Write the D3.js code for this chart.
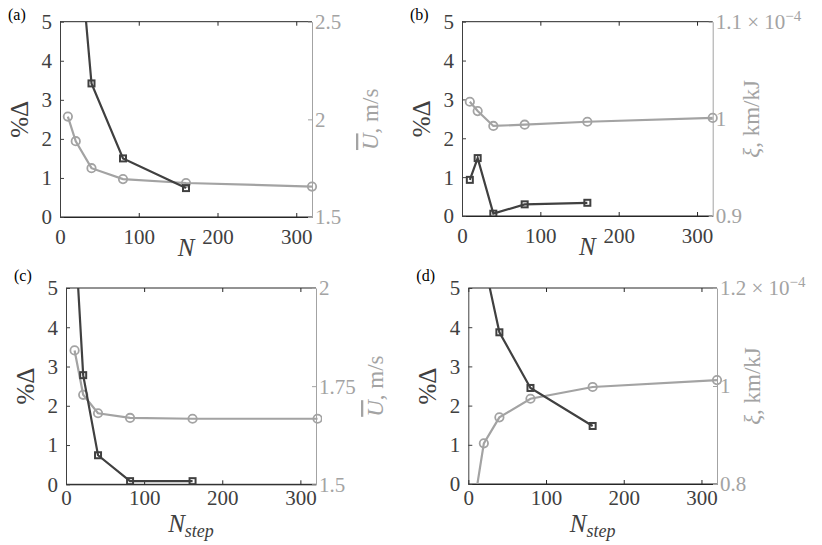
<!DOCTYPE html>
<html>
<head>
<meta charset="utf-8">
<script src="https://d3js.org/d3.v7.min.js"></script>
<style>
  body { margin: 0; background: #fff; }
</style>
</head>
<body>
<svg id="chart" width="822" height="545"></svg>
<script>
// ---- data ----
// (a) resolution N, %Delta (left) and mean speed U (right)
const aErrN = [20, 40, 80, 160];
const aErr = [8.0, 3.42, 1.5, 0.74];
const aValN = [10, 20, 40, 80, 160, 320];
const aU = [2.014, 1.888, 1.75, 1.694, 1.674, 1.656];

// (b) resolution N, %Delta and xi (x 1e-4)
const bErrN = [10, 20, 40, 80, 160];
const bErr = [0.93, 1.49, 0.06, 0.3, 0.34];
const bValN = [10, 20, 40, 80, 160, 320];
const bXi = [1.0176, 1.008, 0.9927, 0.994, 0.997, 1.001];

// (c) N_step, %Delta and U
const cErrN = [11, 22, 41, 82, 162];
const cErr = [6.6, 2.78, 0.74, 0.08, 0.08];
const cValN = [11, 22, 41, 82, 162, 322];
const cU = [1.841, 1.728, 1.681, 1.669, 1.667, 1.667];

// (d) N_step, %Delta and xi (x 1e-4)
const dErrN = [20, 40, 80, 160];
const dErr = [5.7, 3.87, 2.45, 1.48];
const dValN = [10, 20, 40, 80, 160, 320];
const dXi = [0.783, 0.883, 0.936, 0.974, 0.998, 1.012];

const xTicks = [0, 100, 200, 300];
const leftTicks = [0, 1, 2, 3, 4, 5];

const dark = '#404040';
const grey = '#a3a3a3';
const serif = '"Liberation Serif", "Times New Roman", "DejaVu Serif", serif';

const svg = d3.select('#chart').attr('font-family', serif);

const panels = [
  { tag: '(a)', tagY: 20, box: [60, 21.7, 312, 217], errN: aErrN, err: aErr, valN: aValN, val: aU,
    rDomain: [1.5, 2.5], rTicks: [1.5, 2, 2.5], rFmt: ['1.5', '2', '2.5'], rExp: false,
    xLab: 'N', rLab: 'U', xPad: 10, xTitle: 39, rOff: 66 },
  { tag: '(b)', tagY: 20, box: [462, 21.7, 712.7, 216], errN: bErrN, err: bErr, valN: bValN, val: bXi,
    rDomain: [0.9, 1.1], rTicks: [0.9, 1, 1.1], rFmt: ['0.9', '1', '1.1'], rExp: true,
    xLab: 'N', rLab: 'xi', xPad: 10, xTitle: 39, rOff: 46 },
  { tag: '(c)', tagY: 281, box: [66, 288, 316, 484.3], errN: cErrN, err: cErr, valN: cValN, val: cU,
    rDomain: [1.5, 2], rTicks: [1.5, 1.75, 2], rFmt: ['1.5', '1.75', '2'], rExp: false,
    xLab: 'Nstep', rLab: 'U', xPad: 4, xTitle: 48, rOff: 67 },
  { tag: '(d)', tagY: 281, box: [468.3, 288, 717, 484], errN: dErrN, err: dErr, valN: dValN, val: dXi,
    rDomain: [0.8, 1.2], rTicks: [0.8, 1, 1.2], rFmt: ['0.8', '1', '1.2'], rExp: true,
    xLab: 'Nstep', rLab: 'xi', xPad: 4, xTitle: 48, rOff: 43 }
];

panels.forEach((p, pi) => {
  const [x0, y0, x1, y1] = p.box;
  const w = x1 - x0, h = y1 - y0;
  const g = svg.append('g').attr('transform', `translate(${x0},${y0})`);

  const xScale = d3.scaleLinear().domain([0, 320]).range([0, w]);
  const yL = d3.scaleLinear().domain([0, 5]).range([h, 0]);
  const yR = d3.scaleLinear().domain(p.rDomain).range([h, 0]);

  // clip to the plot box
  const clipId = 'clip' + pi;
  g.append('clipPath').attr('id', clipId)
    .append('rect').attr('x', -6).attr('y', 0).attr('width', w + 12).attr('height', h);

  // frame top / bottom
  g.append('line').attr('x1', 0).attr('x2', w).attr('y1', 0).attr('y2', 0).attr('stroke', '#262626');
  g.append('line').attr('x1', 0).attr('x2', w).attr('y1', h).attr('y2', h).attr('stroke', '#262626');

  // bottom axis, inward ticks
  const xAxis = d3.axisBottom(xScale).tickValues(xTicks).tickSizeInner(-4).tickSizeOuter(0).tickPadding(p.xPad);
  const gx = g.append('g').attr('transform', `translate(0,${h})`).call(xAxis).attr('font-family', serif);
  gx.select('.domain').attr('stroke', '#262626');
  gx.selectAll('.tick line').attr('stroke', '#262626');
  gx.selectAll('text').attr('fill', dark).attr('font-size', 21).attr('dy', '0.8em');

  // top ticks
  const xTop = d3.axisTop(xScale).tickValues(xTicks).tickSizeInner(-4).tickSizeOuter(0).tickFormat('');
  const gt = g.append('g').call(xTop);
  gt.select('.domain').remove();
  gt.selectAll('.tick line').attr('stroke', '#262626');

  // left axis
  const yAxisL = d3.axisLeft(yL).tickValues(leftTicks).tickSizeInner(-4).tickSizeOuter(0).tickPadding(8)
    .tickFormat(d3.format('d'));
  const gl = g.append('g').call(yAxisL).attr('font-family', serif);
  gl.select('.domain').attr('stroke', dark);
  gl.selectAll('.tick line').attr('stroke', dark);
  gl.selectAll('text').attr('fill', dark).attr('font-size', 21).attr('dy', '0.33em');

  // right axis
  const yAxisR = d3.axisRight(yR).tickValues(p.rTicks).tickSizeInner(-4).tickSizeOuter(0).tickPadding(3)
    .tickFormat((d, i) => p.rFmt[i]);
  const gr = g.append('g').attr('transform', `translate(${w},0)`).call(yAxisR).attr('font-family', serif);
  gr.select('.domain').attr('stroke', grey);
  gr.selectAll('.tick line').attr('stroke', grey);
  gr.selectAll('text').attr('fill', grey).attr('font-size', 21).attr('dy', '0.33em');
  if (p.rExp) {
    const topTxt = gr.selectAll('.tick text').filter((d) => d === p.rDomain[1]);
    topTxt.append('tspan').text(' \u00d7 10');
    topTxt.append('tspan').attr('dy', '-0.55em').attr('font-size', 15).text('\u22124');
  }

  // series
  const plot = g.append('g').attr('clip-path', `url(#${clipId})`);
  const valPts = p.valN.map((n, i) => [n, p.val[i]]);
  const errPts = p.errN.map((n, i) => [n, p.err[i]]);

  plot.append('path')
    .datum(valPts)
    .attr('d', d3.line().x(d => xScale(d[0])).y(d => yR(d[1])))
    .attr('fill', 'none').attr('stroke', grey).attr('stroke-width', 2.2);
  plot.selectAll('circle.v').data(valPts).join('circle')
    .attr('class', 'v')
    .attr('cx', d => xScale(d[0])).attr('cy', d => yR(d[1])).attr('r', 4.2)
    .attr('fill', 'none').attr('stroke', grey).attr('stroke-width', 1.8);

  plot.append('path')
    .datum(errPts)
    .attr('d', d3.line().x(d => xScale(d[0])).y(d => yL(d[1])))
    .attr('fill', 'none').attr('stroke', dark).attr('stroke-width', 2.2);
  plot.selectAll('rect.e').data(errPts).join('rect')
    .attr('class', 'e')
    .attr('x', d => xScale(d[0]) - 3).attr('y', d => yL(d[1]) - 3)
    .attr('width', 6).attr('height', 6)
    .attr('fill', 'none').attr('stroke', dark).attr('stroke-width', 2);

  // left title %Delta
  g.append('text')
    .attr('transform', `translate(${-32},${h / 2}) rotate(-90)`)
    .attr('text-anchor', 'middle')
    .attr('fill', dark).attr('font-size', 25)
    .text('%\u0394');

  // right title
  const rt = g.append('text')
    .attr('transform', `translate(${w + p.rOff},${h / 2}) rotate(-90)`)
    .attr('text-anchor', 'middle')
    .attr('fill', grey).attr('font-size', 23);
  if (p.rLab === 'U') {
    rt.append('tspan').attr('font-style', 'italic').attr('text-decoration', 'overline').text('U');
    rt.append('tspan').text(', m/s');
  } else {
    rt.append('tspan').attr('font-style', 'italic').text('\u03be');
    rt.append('tspan').text(', km/kJ');
  }

  // x title
  const xt = g.append('text')
    .attr('x', w / 2).attr('y', h + p.xTitle)
    .attr('text-anchor', 'middle')
    .attr('fill', dark).attr('font-size', 25).attr('font-style', 'italic');
  if (p.xLab === 'N') {
    xt.text('N');
  } else {
    xt.append('tspan').text('N');
    xt.append('tspan').attr('font-size', 18).attr('dy', 5).text('step');
  }

  // panel tag
  svg.append('text')
    .attr('x', x0 - 52).attr('y', p.tagY)
    .attr('fill', '#000').attr('font-size', 16)
    .text(p.tag);
});
</script>
</body>
</html>
